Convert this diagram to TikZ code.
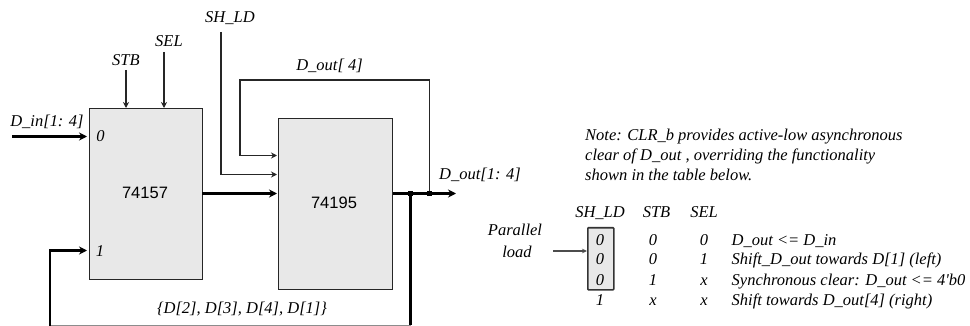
\documentclass[tikz,border=0pt]{standalone}
\usepackage{fontspec}
\setmainfont{Liberation Serif}
\newfontfamily\sansf{Liberation Sans}
\usetikzlibrary{arrows.meta}
\tikzset{
  x=1pt,y=-1pt,
  chip/.style={draw=black!85,line width=1.3pt,fill=black!9,inner sep=0pt,anchor=north west},
  chiplabel/.style={font=\sansf\fontsize{16.5}{18}\selectfont,inner sep=0pt},
  lab/.style={font=\itshape\fontsize{16.5}{18}\selectfont,inner sep=0pt,anchor=base,yshift=-5pt},
  labl/.style={lab,anchor=base west},
  thin wire/.style={line width=1.2pt,draw=black!85,-{Stealth[length=6pt,width=6pt]}},
  plain wire/.style={line width=1pt,draw=black!85},
  bus/.style={line width=2.2pt,draw=black,-{Stealth[length=8pt,width=8pt]}},
  plain bus/.style={line width=2.2pt,draw=black},
  dotm/.style={fill=black,inner sep=0pt,minimum size=5.5pt,rectangle},
  loadbox/.style={draw=black!80,line width=1.5pt,fill=black!9,rounded corners=0.8pt,inner sep=0pt,minimum width=26pt,minimum height=62pt,anchor=north west},
}
\begin{document}
\begin{tikzpicture}
\useasboundingbox (0,0) rectangle (970,326);
\node[chip,minimum width=113.5pt,minimum height=171pt] (mux) at (88.5,108) {};
\node[chip,minimum width=114pt,minimum height=171pt] (reg) at (278,118) {};
\node[chiplabel] at (145,193) {74157};
\node[chiplabel] at (334,203) {74195};
\node[lab] at (100.5,137) {0};
\node[lab] at (100,251) {1};
% labels
\node[lab] (stb) at (126,61) {STB};
\node[lab] (sel) at (169,42) {SEL};
\node[lab] (shld) at (230,18) {SH\_LD};
\node[lab] (din) at (47,122) {D\_in[1: 4]};
\node[lab] (d4) at (329.5,66) {D\_out[ 4]};
\node[lab] (dout) at (480,175) {D\_out[1: 4]};
\node[lab] (fb) at (242,308) {\{D[2], D[3], D[4], D[1]\}};
% coordinates
\coordinate (dinS) at (12,136.5);
\coordinate (stbS) at (126,70);
\coordinate (selS) at (164,52);
\coordinate (shS) at (221,32);
\coordinate (n1) at (410.5,193.5);
\coordinate (n2) at (429.5,193.5);
\coordinate (outE) at (456,193.5);
\coordinate (botR) at (410.5,325.3);
\coordinate (botL) at (50,325.3);
% wires
\draw[thin wire] (stbS) -- (stbS |- mux.north);
\draw[thin wire] (selS) -- (selS |- mux.north);
\draw[thin wire] (shS) |- (277,174.5);
\draw[thin wire] (n2) -- (429.5,80) -- (240,80) |- (277,155.5);
\draw[bus] (dinS) -- (87,136.5);
\draw[bus] (202,193.5) -- (277,193.5);
\draw[plain bus] (reg.east |- n2) -- (n2);
\draw[bus] (n2) -- (outE);
\draw[plain bus] (n1) -- (botR);
\draw[plain wire,draw=black!45] (botR) -- (botL);
\draw[line width=2.2pt,-{Stealth[length=8pt,width=8pt]}] (50,326) |- (87,250.5);
\node[dotm] at (n1) {};
\node[dotm] at (n2) {};
% note
\node[labl] at (585,135.5) {Note: CLR\_b provides active-low asynchronous};
\node[labl] at (585,156) {clear of D\_out , overriding the functionality};
\node[labl] at (585,176) {shown in the table below.};
% table
\node[loadbox] (lb) at (587,227) {};
\node[lab] at (515,231) {Parallel};
\node[lab] at (517,252) {load};
\coordinate (plS) at (553,251);
\draw[thin wire,draw=black!70,-{Stealth[length=5pt,width=4.5pt]}] (plS) -- (lb.west |- plS);
\node[lab] at (600,213) {SH\_LD};
\node[lab] at (656.5,213) {STB};
\node[lab] at (704,213) {SEL};
\foreach \yy/\a/\b/\c/\t in {
 240/0/0/0/{D\_out <= D\_in},
 260/0/0/1/{Shift\_D\_out towards D[1] (left)},
 280/0/1/x/{Synchronous clear: D\_out <= 4\textquotesingle b0},
 300/1/x/x/{Shift towards D\_out[4] (right)}}{
  \node[lab] at (600,\yy) {\a};
  \node[lab] at (653,\yy) {\b};
  \node[lab] at (704,\yy) {\c};
  \node[labl] at (731.5,\yy) {\t};
}
\end{tikzpicture}
\end{document}
